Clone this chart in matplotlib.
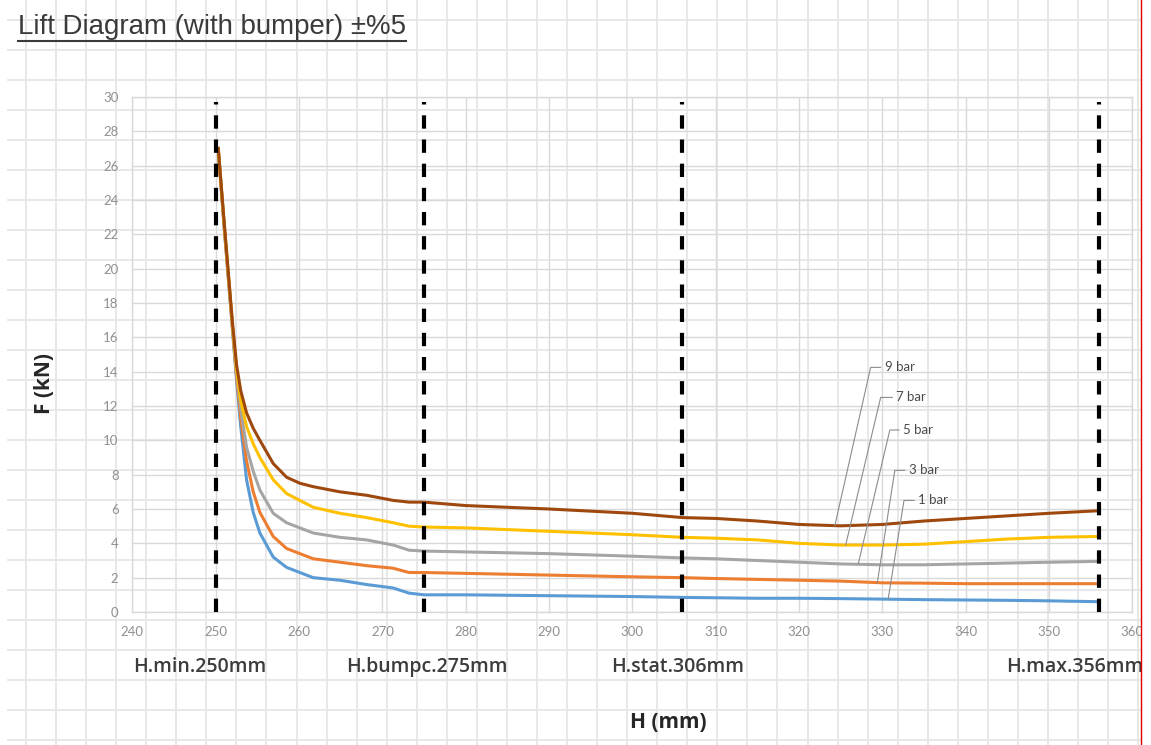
import numpy as np
import matplotlib
matplotlib.use("Agg")
import matplotlib.pyplot as plt
from matplotlib.patches import Rectangle
from matplotlib.lines import Line2D

# ── data ────────────────────────────────────────────────────────────────────
H = [250.3, 251.0, 252.0, 252.5, 253.0, 253.7, 254.5, 255.3, 256.9, 258.5,
     260.1, 261.7, 264.9, 268.1, 271.3, 273.2, 275.0, 280, 290, 300,
     306, 310, 315, 320, 325, 330, 335, 340, 345, 350, 356]

f_1bar = [27.0, 22.5, 16.5, 13.5, 10.8, 7.7, 5.8, 4.6, 3.2, 2.6,
          2.3, 2.0, 1.85, 1.6, 1.4, 1.1, 1.0, 1.0, 0.95, 0.9,
          0.85, 0.83, 0.8, 0.8, 0.78, 0.75, 0.72, 0.7, 0.68, 0.65, 0.6]
f_3bar = [27.0, 22.5, 16.6, 13.7, 11.3, 8.8, 7.0, 5.8, 4.4, 3.7,
          3.4, 3.1, 2.9, 2.7, 2.55, 2.3, 2.3, 2.25, 2.15, 2.05,
          2.0, 1.95, 1.9, 1.85, 1.8, 1.7, 1.68, 1.65, 1.65, 1.65, 1.65]
f_5bar = [27.0, 22.6, 16.7, 13.9, 11.8, 9.6, 8.2, 7.1, 5.75, 5.2,
          4.9, 4.6, 4.35, 4.2, 3.9, 3.6, 3.55, 3.5, 3.4, 3.25,
          3.15, 3.1, 3.0, 2.9, 2.8, 2.75, 2.75, 2.8, 2.85, 2.9, 2.95]
f_7bar = [27.0, 22.7, 16.8, 14.1, 12.3, 10.8, 9.8, 9.0, 7.7, 6.9,
          6.5, 6.1, 5.75, 5.5, 5.2, 5.0, 4.95, 4.9, 4.7, 4.5,
          4.35, 4.3, 4.2, 4.0, 3.9, 3.9, 3.95, 4.1, 4.25, 4.35, 4.4]
f_9bar = [27.0, 22.8, 16.9, 14.4, 12.9, 11.6, 10.7, 10.0, 8.65, 7.85,
          7.5, 7.3, 7.0, 6.8, 6.5, 6.4, 6.4, 6.2, 6.0, 5.75,
          5.5, 5.45, 5.3, 5.1, 5.02, 5.1, 5.3, 5.45, 5.6, 5.75, 5.9]

series_names = ["1 bar", "3 bar", "5 bar", "7 bar", "9 bar"]
series_vals = [f_1bar, f_3bar, f_5bar, f_7bar, f_9bar]
series_colors = ["#5b9bd5", "#ed7d31", "#a5a5a5", "#ffc000", "#9e480e"]

# leader lines: point on curve (x), knee (x, y) and label start x
leader_tip_x = [330.7, 329.4, 327.1, 325.6, 324.3]
leader_knee_x = [332.6, 331.5, 330.9, 329.8, 328.6]
leader_label_y = [6.5, 8.25, 10.6, 12.5, 14.25]
leader_text_x = [334.3, 333.2, 332.5, 331.7, 330.3]

# characteristic heights
marks_h = [250, 275, 306, 356]
marks_text = ["H.min.250mm", "H.bumpc.275mm", "H.stat.306mm", "H.max.356mm"]
marks_text_x = [240.1, 265.7, 297.5, 344.9]

W, HT = 1151, 745
fig = plt.figure(figsize=(W / 100, HT / 100), dpi=100)

# spreadsheet cell grid behind the chart
bg = fig.add_axes([0, 0, 1, 1], zorder=0)
bg.set_xlim(0, W)
bg.set_ylim(HT, 0)
bg.axis("off")
for gx in np.arange(26, 1141, 30.06):
    bg.plot([gx, gx], [0, HT], color="#e6e6e6", lw=1.3)
for gy in np.arange(19.5, HT, 30.0):
    bg.plot([8, 1141], [gy, gy], color="#e6e6e6", lw=1.3)

# chart
ax = fig.add_axes([132.4 / W, 1 - 612 / HT, (1132.3 - 132.4) / W, (612 - 97) / HT],
                  zorder=1)
ax.set_facecolor("none")
ax.set_xlim(240, 360)
ax.set_ylim(0, 30)
ax.set_xticks(np.arange(240, 361, 10))
ax.set_yticks(np.arange(0, 31, 2))
ax.grid(True, color="#d9d9d9", lw=1.0)
ax.set_axisbelow(True)
for sp in ax.spines.values():
    sp.set_color("#d9d9d9")
    sp.set_linewidth(1.0)
ax.tick_params(length=0, labelsize=9.5, labelcolor="#909090", pad=10)
for lab in ax.get_xticklabels() + ax.get_yticklabels():
    lab.set_family("Lato")

for vals, col in zip(series_vals, series_colors):
    ax.plot(H, vals, color=col, lw=2.2, zorder=3)

ax.vlines(marks_h, 0, 29.7, colors="black", lw=3.0,
          linestyles=(0, (3.2, 2.6)), zorder=4)

for name, vals, tx, kx, ly, lx in zip(series_names, series_vals, leader_tip_x,
                                      leader_knee_x, leader_label_y, leader_text_x):
    ty = np.interp(tx, H, vals)
    ax.plot([tx, kx, lx - 0.5], [ty, ly, ly], color="#8c8c8c", lw=0.8, zorder=5)
    ax.text(lx, ly, name, fontsize=9.5, family="Lato", color="#4a4a4a",
            va="center", ha="left", zorder=5)

for txt, tx in zip(marks_text, marks_text_x):
    ax.text(tx, -0.107, txt, transform=ax.get_xaxis_transform(), fontsize=14,
            family="Open Sans", fontweight="semibold", color="#3c3c3c",
            va="center", ha="left", clip_on=False)

fig.text(668 / W, 1 - 722 / HT, "H (mm)", fontsize=15, family="Open Sans",
         fontweight="bold", color="#262626", ha="center", va="center")
fig.text(45 / W, 1 - 383 / HT, "F (kN)", fontsize=15, family="Open Sans",
         fontweight="bold", color="#262626", ha="center", va="center",
         rotation=90)

title = fig.text(18 / W, 1 - 27 / HT, "Lift Diagram (with bumper) ±%5",
                 fontsize=19.9, family="Liberation Sans", color="#3a3a3a",
                 ha="left", va="center")
fig.canvas.draw()
bb = title.get_window_extent()
fig.add_artist(Line2D([bb.x0 / W, bb.x1 / W], [1 - 40.5 / HT, 1 - 40.5 / HT],
                      transform=fig.transFigure, color="#3a3a3a", lw=1.5))

# right edge of the screenshot
fig.add_artist(Rectangle((1141.5 / W, 0), (W - 1141.5) / W, 1,
                         transform=fig.transFigure, facecolor="white",
                         edgecolor="none", zorder=10))
fig.add_artist(Line2D([1141 / W, 1141 / W], [0, 1], transform=fig.transFigure,
                      color="#e00000", lw=1.0, zorder=11))

fig.savefig("out.png", dpi=100)
